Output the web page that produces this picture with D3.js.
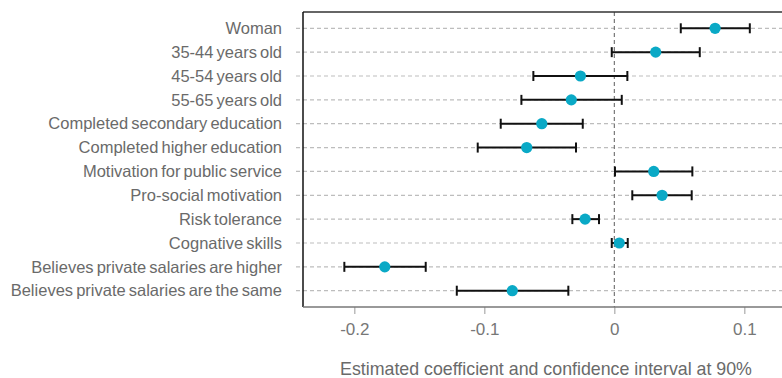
<!DOCTYPE html>
<html>
<head>
<meta charset="utf-8">
<script src="https://cdn.jsdelivr.net/npm/d3@7"></script>
<style>
  html, body { margin: 0; padding: 0; background: #fff; }
  svg { display: block; }
  text { font-family: "Liberation Sans", Arial, sans-serif; }
</style>
</head>
<body>
<svg id="chart" width="782" height="378"></svg>
<script>
// Regression coefficients with 90% confidence intervals
const categories = [
  "Woman",
  "35-44 years old",
  "45-54 years old",
  "55-65 years old",
  "Completed secondary education",
  "Completed higher education",
  "Motivation for public service",
  "Pro-social motivation",
  "Risk tolerance",
  "Cognative skills",
  "Believes private salaries are higher",
  "Believes private salaries are the same"
];
const estimates = [0.0775, 0.0318, -0.0261, -0.0331, -0.0558, -0.0674, 0.0303, 0.0367, -0.0225, 0.0038, -0.1766, -0.0785];
const lower     = [0.0511, -0.0020, -0.0623, -0.0715, -0.0874, -0.1051, 0.0005, 0.0138, -0.0323, -0.0020, -0.2077, -0.1212];
const upper     = [0.1042, 0.0657, 0.0100, 0.0057, -0.0243, -0.0295, 0.0600, 0.0595, -0.0118, 0.0103, -0.1451, -0.0354];
const xTicks = [-0.2, -0.1, 0, 0.1];
const xTickLabels = ["-0.2", "-0.1", "0", "0.1"];
const xTitle = "Estimated coefficient and confidence interval at 90%";

const rows = categories.map((c, i) => ({ name: c, est: estimates[i], lo: lower[i], hi: upper[i] }));

const svg = d3.select("#chart");
const frame = { left: 303, right: 790.5, top: 12, bottom: 307 };

const x = d3.scaleLinear().domain([-0.2395, 0.1355]).range([frame.left, frame.right]);
const y = d3.scalePoint().domain(categories).range([28.3, 290.7]);

// horizontal dashed guides per row (including the short tick left of the frame)
svg.append("g").selectAll("line").data(categories).join("line")
  .attr("x1", frame.left - 7).attr("x2", frame.right)
  .attr("y1", d => y(d)).attr("y2", d => y(d))
  .attr("stroke", "#bdbdbd").attr("stroke-width", 1.2)
  .attr("stroke-dasharray", "4,3");

// row labels
svg.append("g").selectAll("text").data(categories).join("text")
  .attr("x", 282).attr("y", d => y(d)).attr("dy", "0.35em")
  .attr("text-anchor", "end")
  .attr("font-size", 16.5).attr("word-spacing", "-1.5px").attr("fill", "#6a6a6a")
  .text(d => d);

// zero reference line
svg.append("line")
  .attr("x1", x(0)).attr("x2", x(0))
  .attr("y1", frame.top).attr("y2", frame.bottom)
  .attr("stroke", "#777").attr("stroke-width", 1.2)
  .attr("stroke-dasharray", "4,3");

// bottom axis
const xAxis = d3.axisBottom(x).tickValues(xTicks)
  .tickFormat((d, i) => xTickLabels[i]).tickSize(7).tickPadding(9);
const gx = svg.append("g").attr("transform", `translate(0,${frame.bottom})`).call(xAxis);
gx.select(".domain").remove();
gx.selectAll(".tick line").attr("stroke", "#999").attr("stroke-width", 1);
gx.selectAll(".tick text").attr("font-size", 17).attr("fill", "#777")
  .attr("font-family", "Liberation Sans, Arial, sans-serif");

// frame: dark top and left, grey bottom
svg.append("line").attr("x1", frame.left).attr("x2", frame.right)
  .attr("y1", frame.top).attr("y2", frame.top)
  .attr("stroke", "#333").attr("stroke-width", 1.5);
svg.append("line").attr("x1", frame.left).attr("x2", frame.left)
  .attr("y1", frame.top).attr("y2", frame.bottom)
  .attr("stroke", "#111").attr("stroke-width", 1.5);
svg.append("line").attr("x1", frame.left).attr("x2", frame.right)
  .attr("y1", frame.bottom).attr("y2", frame.bottom)
  .attr("stroke", "#777").attr("stroke-width", 1.5);

// confidence intervals
const ci = svg.append("g").selectAll("g").data(rows).join("g");
ci.append("line")
  .attr("x1", d => x(d.lo)).attr("x2", d => x(d.hi))
  .attr("y1", d => y(d.name)).attr("y2", d => y(d.name))
  .attr("stroke", "#111").attr("stroke-width", 2);
ci.append("line")
  .attr("x1", d => x(d.lo)).attr("x2", d => x(d.lo))
  .attr("y1", d => y(d.name) - 5).attr("y2", d => y(d.name) + 5)
  .attr("stroke", "#111").attr("stroke-width", 2);
ci.append("line")
  .attr("x1", d => x(d.hi)).attr("x2", d => x(d.hi))
  .attr("y1", d => y(d.name) - 5).attr("y2", d => y(d.name) + 5)
  .attr("stroke", "#111").attr("stroke-width", 2);

// point estimates
svg.append("g").selectAll("circle").data(rows).join("circle")
  .attr("cx", d => x(d.est)).attr("cy", d => y(d.name))
  .attr("r", 5.6).attr("fill", "#0aa9c6");

// axis title
svg.append("text")
  .attr("x", 546).attr("y", 369).attr("dy", "0.35em")
  .attr("text-anchor", "middle")
  .attr("font-size", 17.8).attr("fill", "#6a6a6a")
  .text(xTitle);
</script>
</body>
</html>
